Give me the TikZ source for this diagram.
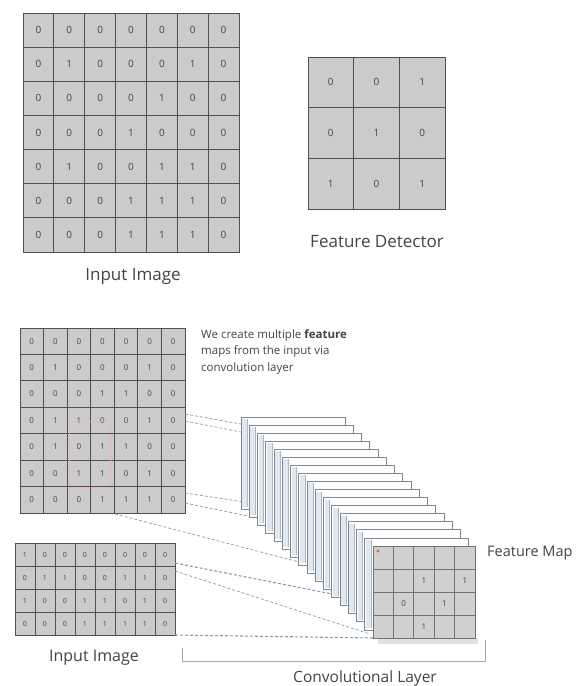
\documentclass[tikz,border=0pt]{standalone}
\usepackage{fontspec}
\setmainfont{Open Sans}
\usetikzlibrary{calc}
\definecolor{cellfill}{HTML}{CBCBCB}
\definecolor{gridline}{HTML}{505050}
\definecolor{txt}{HTML}{444444}
\definecolor{sheetblue}{HTML}{DDE8F3}
\definecolor{sheetline}{HTML}{7F8790}
\definecolor{dashcol}{HTML}{8C9AAB}
\tikzset{
  cell/.style={draw=gridline, fill=cellfill, line width=0.8pt, inner sep=0pt, text=txt},
  fmcell/.style={draw=gridline!80, fill=cellfill!90, line width=0.7pt, inner sep=0pt, text=txt},
  lbl/.style={text=txt, inner sep=0pt},
  dashline/.style={dashcol, dashed, dash pattern=on 3pt off 2pt, line width=0.7pt},
  sheet/.style={draw=sheetline, fill=white, line width=0.7pt},
  bracket/.style={draw=gray!70, line width=1pt}
}
% #1 name, #2 x0, #3 y0, #4 cell width, #5 cell height, #6 font size, #7 rows, #8 style
\newcommand{\cnngrid}[8]{%
  \foreach \row [count=\r] in {#7} {
    \foreach \v [count=\c] in \row {
      \node[#8, minimum width=#4pt, minimum height=#5pt, font=\fontsize{#6}{#6}\selectfont]
        (#1-\r-\c) at ({#2+#4*\c-#4/2},{#3+#5*\r-#5/2}) {\v};
    }
  }
}
\begin{document}
\begin{tikzpicture}[x=1pt,y=-1pt]
\useasboundingbox[fill=white] (0,0) rectangle (577,686);

% ---------- top: input image ----------
\cnngrid{A}{23}{13}{30.86}{34.14}{10}{{0,0,0,0,0,0,0},{0,1,0,0,0,1,0},{0,0,0,0,1,0,0},{0,0,0,1,0,0,0},{0,1,0,0,1,1,0},{0,0,0,1,1,1,0},{0,0,0,1,1,1,0}}{cell}
\node[lbl, font=\fontsize{17}{17}\selectfont] (lblA) at (133,276) {Input Image};

% ---------- top: feature detector ----------
\cnngrid{F}{308}{57}{45.67}{50.67}{10}{{0,0,1},{0,1,0},{1,0,1}}{cell}
\node[lbl, font=\fontsize{17}{17}\selectfont] (lblF) at (377,242) {Feature Detector};

% ---------- bottom: big input grid ----------
\cnngrid{B}{20}{328}{23.57}{26.43}{8}{{0,0,0,0,0,0,0},{0,1,0,0,0,1,0},{0,0,0,1,1,0,0},{0,1,1,0,0,1,0},{0,1,0,1,1,0,0},{0,0,1,1,0,1,0},{0,0,0,1,1,1,0}}{cell}
\draw[red!35, opacity=0.8, line width=0.6pt, dashed, dash pattern=on 2pt off 1.5pt] (69,421) rectangle (110,487);

% ---------- bottom: small input grid ----------
\cnngrid{S}{15}{543}{20}{23}{7}{{1,0,0,0,0,0,0,0},{0,1,1,0,0,1,1,0},{1,0,0,1,1,0,1,0},{0,0,0,1,1,1,1,0}}{cell}
\node[lbl, font=\fontsize{16}{16}\selectfont] (lblS) at (94,658) {Input Image};

% ---------- text ----------
\node[lbl, anchor=north west, align=left, font=\fontsize{11.5}{16.5}\selectfont] (note) at (201,329)
  {We create multiple \textbf{feature}\\maps from the input via\\convolution layer};

% ---------- connector end coordinates ----------
\coordinate (d1s) at (185,414); \coordinate (d1e) at (241,424);
\coordinate (d2s) at (185,421); \coordinate (d2e) at (241,432);
\coordinate (d3s) at (185,493); \coordinate (d3e) at (330,515);
\coordinate (d4s) at (185,503); \coordinate (d4e) at (340,535);
\coordinate (d5s) at (115,514); \coordinate (d5e) at (330,570);
\coordinate (d6s) at (175,563); \coordinate (d6e) at (373,602);
\coordinate (d7s) at (175,571); \coordinate (d7e) at (370,634);
\coordinate (d8s) at (175,635); \coordinate (d8e) at (373,638);

\draw[dashline] (d1s) -- (d1e);
\draw[dashline] (d2s) -- (d2e);
\draw[dashline] (d3s) -- (d3e);
\draw[dashline] (d4s) -- (d4e);
\draw[dashline] (d5s) -- (d5e);
\draw[dashline, line width=1.1pt] (d6s) -- (d6e);
\draw[dashline] (d7s) -- (d7e);
\draw[dashline, line width=1.1pt] (d8s) -- (d8e);

% ---------- stack of feature maps ----------
\foreach \i in {0,...,15} {
  \pgfmathsetmacro{\sx}{241+8.25*\i}
  \pgfmathsetmacro{\sy}{417+8.06*\i}
  \draw[sheet] (\sx,\sy) rectangle ++(104,92);
  \fill[sheetblue] (\sx+1,\sy+2) rectangle ++(5,88);
  \draw[sheetline!60, line width=0.4pt] (\sx+6,\sy+2) -- ++(0,88);
}
% front feature map
\fill[gray!25] (378,638) rectangle (478,644);
\cnngrid{M}{373}{546}{20.4}{23}{8}{{ , , , , },{ , ,1, ,1},{ ,0, ,1, },{ , ,1, , }}{fmcell}
\fill[red!70] (378,551) circle (1.6);
\node[lbl, anchor=west, font=\fontsize{14.5}{14.5}\selectfont] (lblM) at (487,553) {Feature Map};

% ---------- bracket ----------
\coordinate (b1) at (182,648);
\coordinate (b2) at (182,661);
\coordinate (b3) at (485,661);
\coordinate (b4) at (485,640);
\draw[bracket] (b1) -- (b2) -- (b3) -- (b4);
\node[lbl, font=\fontsize{15.5}{15.5}\selectfont] (lblC) at (365,678) {Convolutional Layer};
\end{tikzpicture}
\end{document}
